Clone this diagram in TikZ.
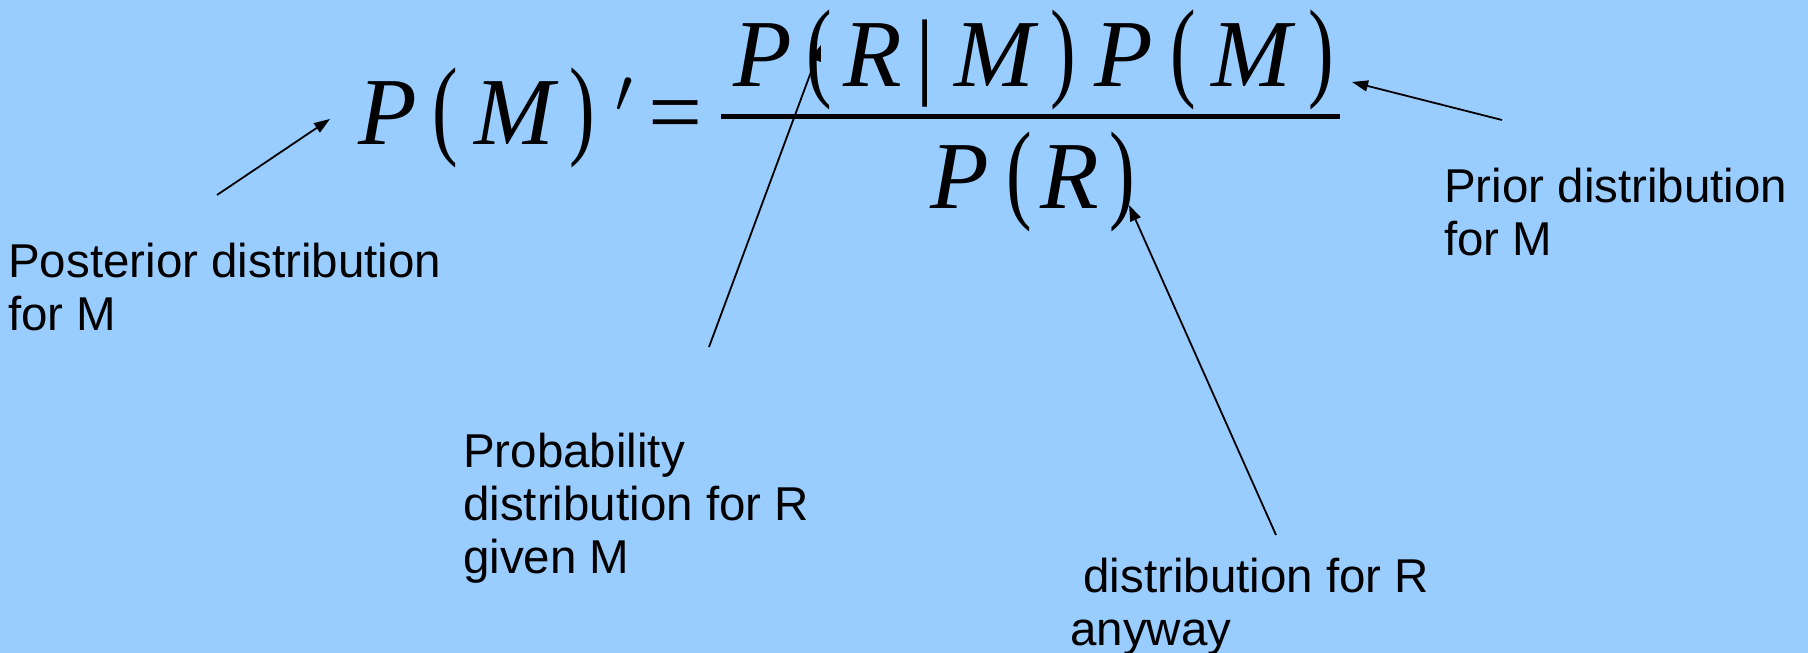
\documentclass[tikz,border=0pt]{standalone}
\usepackage{fontspec}
\usepackage{graphicx}
\setmainfont{Liberation Sans}
\newfontfamily\eqfont{Liberation Serif}
\usetikzlibrary{arrows.meta}
\definecolor{bg}{RGB}{153,204,255}
\newcommand\mylp{\scalebox{0.8}[1.15]{(}}
\newcommand\myrp{\scalebox{0.8}[1.15]{)}}
\newcommand\myprime{\scalebox{2.5}{\fontsize{24.88}{24.88}\selectfont$\prime$}}
\begin{document}
\begin{tikzpicture}[x=1pt,y=-1pt,
  gi/.style={font=\eqfont\fontsize{96}{96}\selectfont\itshape, inner sep=0pt, anchor=base},
  gu/.style={font=\eqfont\fontsize{96}{96}\selectfont, inner sep=0pt, anchor=base},
  lbl/.style={font=\fontsize{47.5}{53}\selectfont, inner sep=0pt, anchor=base west, align=left},
  arr/.style={line width=1.8pt, -{Triangle[length=16pt,width=11pt]}},
  fracbar/.style={line width=5pt}]
\fill[bg] (0,0) rectangle (1808,653);
\useasboundingbox (0,0) rectangle (1808,653);
% left-hand side
\node[gi] (P1) at (387.5,144) {P};
\node[gu] (L1) at (445,144) {\mylp};
\node[gi] (M1) at (514.5,144) {M};
\node[gu] (R1) at (582.5,144) {\myrp};
\node[inner sep=0pt, anchor=base] (pr) at (624,112) {\myprime};
\node[gu] (eq) at (675.5,144) {=};
% fraction bar
\coordinate (barL) at (721,116);
\coordinate (barR) at (1340,116);
\draw[fracbar] (barL) -- (barR);
% numerator
\node[gi] (nP1) at (762.5,86) {P};
\node[gu] (nL1) at (819,86) {\mylp};
\node[gi] (nR) at (872.5,86) {R};
\node[gu] (nbar) at (925,86) {|};
\node[gi] (nM1) at (994,86) {M};
\node[gu] (nR1) at (1063.5,86) {\myrp};
\node[gi] (nP2) at (1124,86) {P};
\node[gu] (nL2) at (1183.5,86) {\mylp};
\node[gi] (nM2) at (1251,86) {M};
\node[gu] (nR2) at (1321,86) {\myrp};
% denominator
\node[gi] (dP) at (960,208) {P};
\node[gu] (dL) at (1019,208) {\mylp};
\node[gi] (dR) at (1070,208) {R};
\node[gu] (dRp) at (1122.5,208) {\myrp};
% labels (base anchor = baseline of last line)
\node[lbl] (post) at (8,330) {Posterior distribution\\for M};
\node[lbl] (prior) at (1444,255) {Prior distribution\\for M};
\node[lbl] (lik) at (463,573) {Probability\\distribution for R\\given M};
\node[lbl] (evid) at (1070,645) {\ distribution for R\\anyway};
% arrows
\coordinate (postTail) at (217,195);
\coordinate (postTip) at (330,119);
\coordinate (likTail) at (709,347);
\coordinate (likTip) at (821,45);
\coordinate (evTail) at (1276,535);
\coordinate (evTip) at (1129,205);
\coordinate (priTail) at (1502,120);
\coordinate (priTip) at (1352,82);
\draw[arr] (postTail) -- (postTip);
\draw[arr] (likTail) -- (likTip);
\draw[arr] (evTail) -- (evTip);
\draw[arr] (priTail) -- (priTip);
\end{tikzpicture}
\end{document}
